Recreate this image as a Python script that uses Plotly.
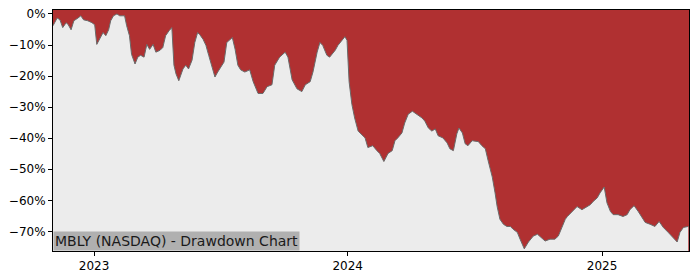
import plotly.graph_objects as go

dates = [
    "2022-11-03", "2022-11-09", "2022-11-13", "2022-11-17", "2022-11-22", "2022-11-25", "2022-11-29",
    "2022-12-03", "2022-12-09", "2022-12-13", "2022-12-17", "2022-12-23", "2022-12-29",
    "2023-01-02", "2023-01-05", "2023-01-09", "2023-01-14", "2023-01-18", "2023-01-22", "2023-01-25",
    "2023-01-29", "2023-02-03", "2023-02-07", "2023-02-11", "2023-02-14", "2023-02-17", "2023-02-21",
    "2023-02-24", "2023-03-01", "2023-03-05", "2023-03-09", "2023-03-14", "2023-03-18", "2023-03-22",
    "2023-03-27", "2023-03-31", "2023-04-06", "2023-04-10", "2023-04-14", "2023-04-19", "2023-04-23",
    "2023-04-26", "2023-04-29", "2023-05-03", "2023-05-09", "2023-05-13", "2023-05-17", "2023-05-22",
    "2023-05-26", "2023-05-30", "2023-06-02", "2023-06-07", "2023-06-11", "2023-06-15", "2023-06-20",
    "2023-06-24", "2023-06-28", "2023-07-03", "2023-07-07", "2023-07-11", "2023-07-16", "2023-07-19",
    "2023-07-23", "2023-07-27", "2023-07-31", "2023-08-06", "2023-08-13", "2023-08-18", "2023-08-25",
    "2023-09-01", "2023-09-07", "2023-09-14", "2023-09-18", "2023-09-25", "2023-10-03", "2023-10-07",
    "2023-10-13", "2023-10-20", "2023-10-27", "2023-11-01", "2023-11-08", "2023-11-12", "2023-11-18",
    "2023-11-22", "2023-11-26", "2023-12-02", "2023-12-06", "2023-12-14", "2023-12-18", "2023-12-24",
    "2023-12-28", "2023-12-31", "2024-01-03", "2024-01-07", "2024-01-11", "2024-01-16", "2024-01-19",
    "2024-01-26", "2024-01-30", "2024-02-06", "2024-02-12", "2024-02-16", "2024-02-22", "2024-02-28",
    "2024-03-05", "2024-03-09", "2024-03-13", "2024-03-19", "2024-03-23", "2024-03-28", "2024-04-03",
    "2024-04-10", "2024-04-17", "2024-04-21", "2024-04-26", "2024-05-01", "2024-05-06", "2024-05-10",
    "2024-05-17", "2024-05-23", "2024-05-27", "2024-06-01", "2024-06-06", "2024-06-09", "2024-06-14",
    "2024-06-18", "2024-06-22", "2024-06-28", "2024-07-07", "2024-07-12", "2024-07-17", "2024-07-21",
    "2024-07-27", "2024-07-31", "2024-08-03", "2024-08-07", "2024-08-12", "2024-08-17", "2024-08-22",
    "2024-08-26", "2024-09-01", "2024-09-05", "2024-09-11", "2024-09-17", "2024-09-24", "2024-09-30",
    "2024-10-04", "2024-10-11", "2024-10-18", "2024-10-25", "2024-10-30", "2024-11-05", "2024-11-09",
    "2024-11-12", "2024-11-19", "2024-11-26", "2024-12-03", "2024-12-08", "2024-12-15", "2024-12-19",
    "2024-12-25", "2024-12-29", "2025-01-04", "2025-01-08", "2025-01-13", "2025-01-17", "2025-01-24",
    "2025-01-31", "2025-02-06", "2025-02-10", "2025-02-16", "2025-02-22", "2025-02-28", "2025-03-04",
    "2025-03-11", "2025-03-18", "2025-03-24", "2025-03-30", "2025-04-06", "2025-04-13", "2025-04-19",
    "2025-04-23", "2025-04-28", "2025-05-05",
]

drawdown_pct = [
    -3.8, -1.3, -1.9, -4.4, -2.8, -3.5, -5.1,
    -2.2, -1.3, -0.6, -1.9, -2.2, -2.8,
    -3.5, -9.8, -8.2, -6.0, -7.0, -5.1, -2.2,
    -0.6, 0.0, -0.6, -0.6, -0.6, -3.8, -7.0,
    -13.0, -16.1, -13.9, -13.3, -13.9, -9.8, -11.4,
    -9.8, -12.3, -11.7, -10.8, -7.0, -5.4, -4.4,
    -16.5, -19.3, -21.5, -17.7, -16.5, -17.7, -14.9,
    -9.2, -6.0, -6.6, -8.2, -10.1, -13.3, -17.1,
    -20.3, -18.7, -17.1, -15.5, -9.2, -8.2, -7.6,
    -11.4, -16.5, -18.0, -18.7, -18.0, -21.8, -25.6,
    -25.6, -23.4, -22.8, -16.5, -13.9, -12.3, -13.9,
    -21.2, -24.1, -25.0, -22.8, -21.8, -18.7, -12.3,
    -9.2, -10.1, -13.3, -13.9, -11.7, -10.1, -8.2,
    -7.3, -8.5, -21.8, -29.1, -33.5, -37.7, -38.3,
    -39.9, -43.0, -42.4, -44.0, -44.9, -47.5, -44.9,
    -44.0, -40.8, -39.9, -38.3, -35.1, -32.3, -31.3,
    -32.3, -33.5, -34.5, -36.7, -37.7, -37.0, -39.2,
    -39.9, -41.5, -43.4, -44.0, -38.6, -36.7, -38.3,
    -41.8, -42.4, -40.8, -41.1, -42.4, -43.4, -47.2,
    -52.5, -57.6, -62.0, -66.1, -67.7, -68.4, -68.4,
    -69.3, -70.3, -72.5, -75.6, -73.4, -71.5, -70.9,
    -71.8, -73.1, -72.5, -72.5, -71.5, -68.4, -66.1,
    -65.2, -63.6, -62.0, -63.0, -62.3, -61.4, -60.4,
    -59.2, -57.6, -55.7, -60.8, -63.6, -64.6, -64.6,
    -65.2, -64.6, -63.0, -61.7, -63.6, -65.5, -67.1,
    -67.7, -68.4, -66.8, -68.7, -70.3, -71.8, -73.4,
    -70.3, -68.7, -68.4,
]

y_ticks = [0, -10, -20, -30, -40, -50, -60, -70]
y_tick_labels = ["0%", "\u221210%", "\u221220%", "\u221230%", "\u221240%", "\u221250%", "\u221260%", "\u221270%"]
x_ticks = ["2023-01-01", "2024-01-01", "2025-01-01"]
x_tick_labels = ["2023", "2024", "2025"]
x_range = ["2022-11-03", "2025-05-06"]
y_range = [-76.3, 1.27]
title_text = "MBLY (NASDAQ) - Drawdown Chart"

RED = "#b03031"
GRAY_BG = "#ececec"

fig = go.Figure()
# lower bound (invisible) for the gray fill under the drawdown line
fig.add_trace(go.Scatter(
    x=[dates[0], dates[-1]], y=[y_range[0], y_range[0]],
    mode="lines", line=dict(width=0, color=GRAY_BG),
    hoverinfo="skip", showlegend=False,
))
fig.add_trace(go.Scatter(
    x=dates, y=drawdown_pct, mode="lines",
    line=dict(color="#6a6a6a", width=1),
    fill="tonexty", fillcolor=GRAY_BG, showlegend=False,
))

font = dict(family="DejaVu Sans", size=12, color="#000000")

fig.update_layout(
    width=700, height=280,
    margin=dict(l=53, r=11, t=7, b=28),
    paper_bgcolor="white",
    plot_bgcolor=RED,
    font=font,
    showlegend=False,
    xaxis=dict(
        type="date", range=x_range,
        tickvals=x_ticks, ticktext=x_tick_labels,
        ticks="outside", ticklen=4, tickcolor="black", tickwidth=1,
        showgrid=False, zeroline=False,
        showline=True, linecolor="black", linewidth=1, mirror=True,
        tickfont=font,
    ),
    yaxis=dict(
        range=y_range, tickvals=y_ticks, ticktext=y_tick_labels,
        ticks="outside", ticklen=4, tickcolor="black", tickwidth=1,
        showgrid=False, zeroline=False,
        showline=True, linecolor="black", linewidth=1, mirror=True,
        tickfont=font,
    ),
    annotations=[dict(
        text=title_text, xref="paper", yref="paper", x=0, y=0,
        xanchor="left", yanchor="bottom", showarrow=False,
        bgcolor="#b0b0b0", borderpad=1,
        font=dict(family="DejaVu Sans", size=14, color="#1a1a1a"),
    )],
)

fig.write_html("out.html")
